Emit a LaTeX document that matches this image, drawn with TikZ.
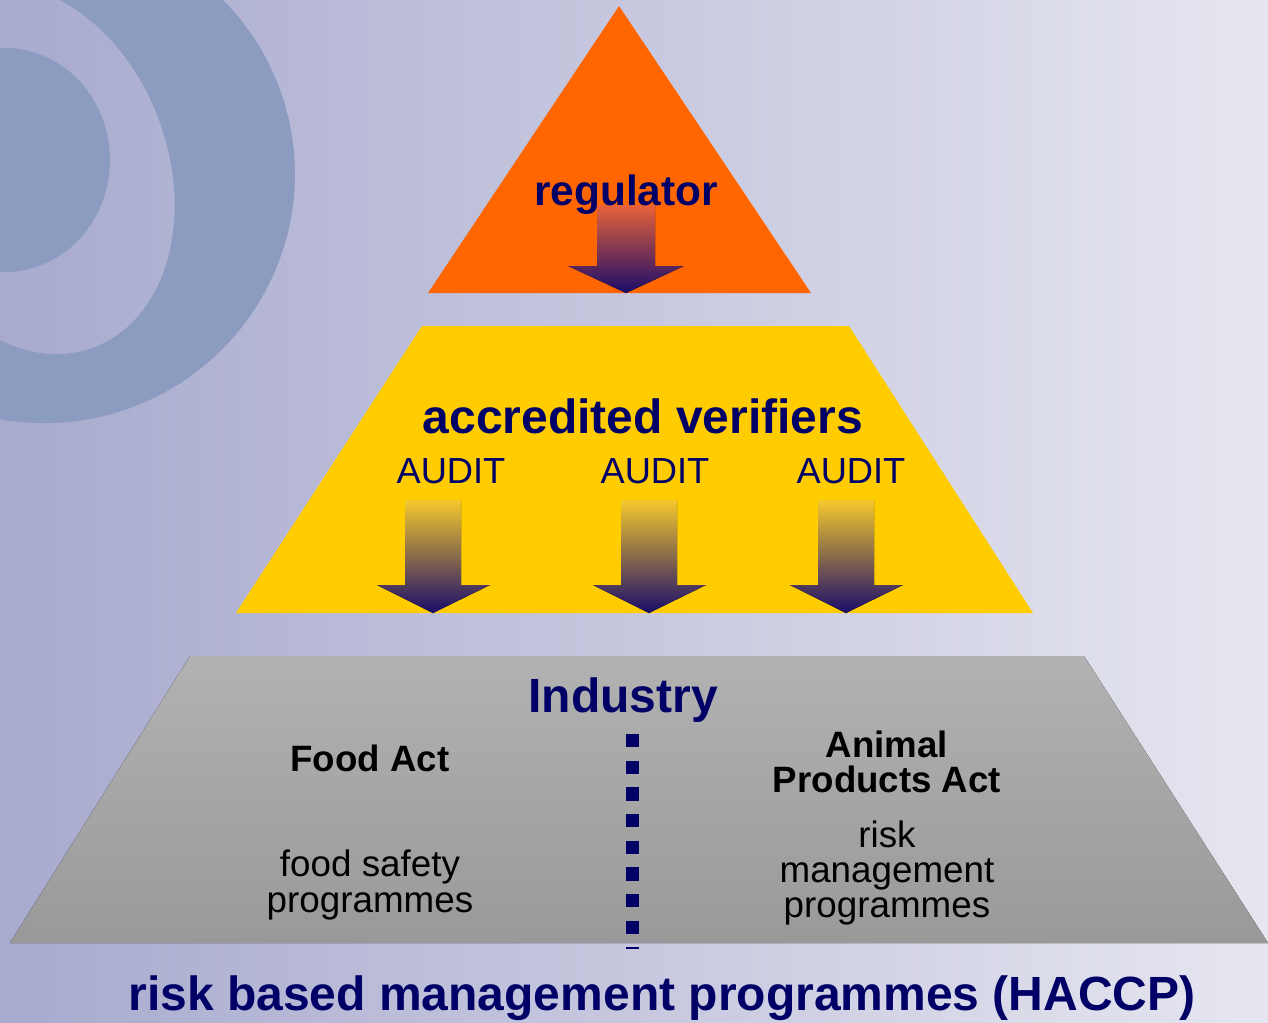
\documentclass[tikz,border=0pt]{standalone}
\usepackage{fontspec}
\setmainfont{Liberation Sans}

\definecolor{bgleft}{RGB}{168,170,206}
\definecolor{bgright}{RGB}{230,230,240}
\definecolor{ringblue}{RGB}{140,156,192}
\definecolor{regorange}{RGB}{255,102,0}
\definecolor{verifyellow}{RGB}{255,204,0}
\definecolor{navytext}{RGB}{0,0,102}
\definecolor{industrytop}{RGB}{178,178,178}
\definecolor{industrybot}{RGB}{153,153,153}
\definecolor{arrowdark}{RGB}{26,12,106}
\definecolor{regarrowtop}{RGB}{232,98,58}
\definecolor{auditarrowtop}{RGB}{245,200,45}

\tikzset{every picture/.style={line width=0.75pt}}
\tikzset{
  tier label/.style={text=navytext, font=\bfseries\fontsize{36}{36}\selectfont, inner sep=0.75pt},
  audit label/.style={text=navytext, font=\fontsize{27.2}{27}\selectfont, inner sep=0.75pt},
  act label/.style={font=\bfseries\fontsize{27.5}{26.3}\selectfont, align=center, inner sep=0.75pt},
  prog label/.style={font=\fontsize{27.6}{27.6}\selectfont, align=center, inner sep=0.75pt},
  audit arrow/.style={top color=auditarrowtop, bottom color=arrowdark},
}

\begin{document}
\begin{tikzpicture}[x=0.75pt,y=0.75pt,yscale=-1,xscale=1]
        \useasboundingbox (0,0) rectangle (1268,1022);

        %Shape: Rectangle [background]
        \fill [left color=bgleft, right color=bgright] (0,0) rectangle (1268,1022);
        %Shape: Ring [background]
        \fill [ringblue, even odd rule] [rotate around={-15:(45,175)}] (45,175) ellipse (250 and 248) [rotate around={-5:(30,165)}] (30,165) ellipse (140 and 190);
        %Shape: Circle [background]
        \fill [ringblue] (5,160) ellipse (105 and 112);

        %Shape: Triangle [regulator]
        \fill [regorange] (619,6) -- (811,293) -- (428,293) -- cycle;
        %Shape: Trapezoid [verifiers]
        \fill [verifyellow] (422,326) -- (849,326) -- (1033,613) -- (236,613) -- cycle;
        %Shape: Trapezoid [industry]
        \fill [top color=industrytop, bottom color=industrybot] (190,656) -- (1084,656) -- (1268,943) -- (10,943) -- cycle;

        %Shape: Down Arrow [regulator]
        \fill [top color=regarrowtop, bottom color=arrowdark] (597,205) -- (655,205) -- (655,266) -- (684,266) -- (626,293) -- (568,266) -- (597,266) -- cycle;
        %Shape: Down Arrow [audit 1]
        \fill [audit arrow] (405,500) -- (461,500) -- (461,585) -- (490,585) -- (433,613) -- (377,585) -- (405,585) -- cycle;
        %Shape: Down Arrow [audit 2]
        \fill [audit arrow] (621,500) -- (677,500) -- (677,585) -- (706,585) -- (649,613) -- (593,585) -- (621,585) -- cycle;
        %Shape: Down Arrow [audit 3]
        \fill [audit arrow] (818,500) -- (874,500) -- (874,585) -- (903,585) -- (846,613) -- (790,585) -- (818,585) -- cycle;

        %Straight Lines [divider]
        \coordinate (divtop) at (632.5,734);
        \coordinate (divbot) at (632.5,949);
        \draw [navytext, line width=9.75pt, dash pattern={on 10pt off 10pt}] (divtop) -- (divbot);

        % Text Node
        \draw (626,205) node [anchor=base, tier label, font=\bfseries\fontsize{31.8}{32}\selectfont] (regulator) {regulator};
        % Text Node
        \draw (643,433) node [anchor=base, tier label] (verifiers) {accredited verifiers};
        % Text Node
        \draw (451,483) node [anchor=base, audit label] (audit1) {AUDIT};
        % Text Node
        \draw (655,483) node [anchor=base, audit label] (audit2) {AUDIT};
        % Text Node
        \draw (851,483) node [anchor=base, audit label] (audit3) {AUDIT};
        % Text Node
        \draw (623,712) node [anchor=base, tier label] (industry) {Industry};
        % Text Node
        \draw (370,771) node [anchor=base, act label] (foodact) {Food Act};
        % Text Node
        \draw (887,761.5) node [act label] (apact) {Animal\\Products Act};
        % Text Node
        \draw (370,885) node [prog label] (fsprog) {food safety\\programmes};
        % Text Node
        \draw (887,873) node [prog label, font=\fontsize{27.6}{26.6}\selectfont] (rmprog) {risk\\management\\programmes};
        % Text Node
        \draw (662,1010) node [anchor=base, tier label] (haccp) {risk based management programmes (HACCP)};
\end{tikzpicture}
\end{document}
